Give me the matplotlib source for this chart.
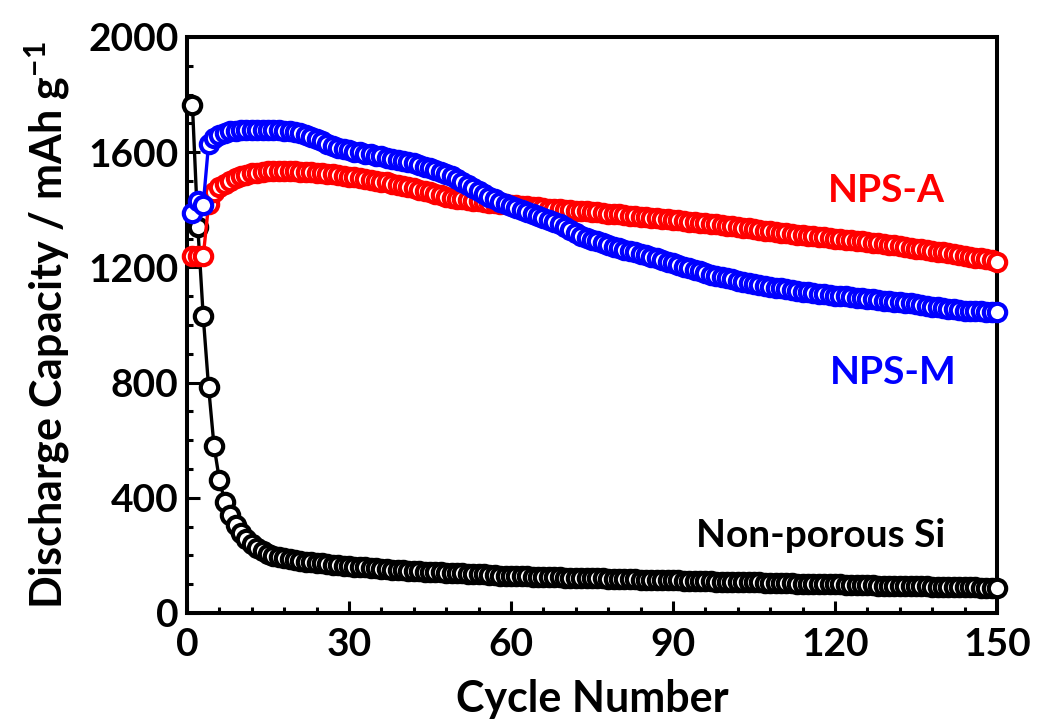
import matplotlib
matplotlib.use("Agg")
import matplotlib.pyplot as plt
import numpy as np

cycles = list(range(1, 151))

non_porous = [
    1764, 1340, 1030, 783, 580, 462, 386, 340, 305, 278,
    258, 240, 226, 215, 206, 199, 194, 190, 186, 183,
    180, 178, 176, 174, 172, 170, 168, 166, 164, 162,
    161, 159, 158, 156, 155, 154, 152, 150, 149, 148,
    147, 146, 145, 144, 143, 142, 141, 140, 139, 139,
    138, 137, 136, 135, 134, 133, 131, 130, 129, 128,
    128, 127, 127, 126, 126, 125, 125, 124, 124, 123,
    123, 122, 122, 121, 121, 120, 120, 119, 119, 118,
    118, 117, 117, 116, 116, 115, 115, 114, 114, 113,
    113, 112, 112, 111, 111, 110, 110, 109, 109, 109,
    108, 108, 107, 107, 106, 106, 105, 105, 104, 104,
    103, 103, 102, 102, 102, 101, 101, 100, 100, 99,
    99, 98, 98, 97, 97, 96, 96, 95, 95, 95,
    94, 94, 93, 93, 92, 92, 92, 91, 91, 91,
    90, 90, 90, 89, 89, 89, 88, 88, 88, 88,
]

nps_a = [
    1240, 1240, 1238, 1420, 1460, 1478, 1490, 1500, 1510, 1517,
    1522, 1526, 1529, 1531, 1533, 1533, 1534, 1534, 1533, 1533,
    1532, 1531, 1530, 1528, 1527, 1525, 1523, 1521, 1518, 1515,
    1513, 1510, 1507, 1504, 1501, 1498, 1495, 1491, 1487, 1483,
    1479, 1474, 1470, 1465, 1460, 1455, 1450, 1446, 1442, 1439,
    1436, 1433, 1431, 1429, 1427, 1425, 1423, 1421, 1419, 1418,
    1416, 1414, 1412, 1410, 1408, 1406, 1404, 1402, 1401, 1400,
    1399, 1397, 1396, 1395, 1393, 1391, 1389, 1387, 1385, 1384,
    1382, 1380, 1378, 1376, 1375, 1373, 1371, 1369, 1367, 1365,
    1363, 1361, 1359, 1357, 1355, 1353, 1351, 1349, 1347, 1345,
    1342, 1340, 1337, 1335, 1332, 1330, 1327, 1325, 1322, 1320,
    1318, 1316, 1314, 1312, 1310, 1308, 1306, 1304, 1302, 1300,
    1298, 1296, 1294, 1292, 1290, 1288, 1286, 1284, 1281, 1278,
    1276, 1273, 1270, 1268, 1265, 1263, 1260, 1258, 1255, 1252,
    1249, 1246, 1243, 1240, 1237, 1234, 1232, 1228, 1224, 1220,
]

nps_m = [
    1390, 1430, 1418, 1630, 1650, 1660, 1667, 1672, 1675, 1677,
    1678, 1678, 1678, 1678, 1678, 1677, 1676, 1674, 1672, 1669,
    1665, 1660, 1654, 1646, 1638, 1630, 1622, 1616, 1610, 1606,
    1602, 1599, 1595, 1592, 1588, 1585, 1581, 1577, 1573, 1569,
    1565, 1561, 1556, 1550, 1544, 1538, 1532, 1525, 1516, 1506,
    1496, 1486, 1476, 1466, 1456, 1446, 1436, 1428, 1421, 1414,
    1407, 1400, 1393, 1386, 1379, 1372, 1365, 1357, 1349, 1340,
    1330, 1320, 1310, 1303, 1296, 1290, 1284, 1278, 1272, 1267,
    1262, 1257, 1252, 1248, 1243, 1237, 1231, 1225, 1219, 1214,
    1208, 1202, 1197, 1191, 1186, 1180, 1175, 1171, 1166, 1162,
    1158, 1154, 1150, 1145, 1142, 1139, 1136, 1133, 1130, 1127,
    1124, 1121, 1118, 1116, 1113, 1110, 1108, 1106, 1104, 1102,
    1100, 1099, 1097, 1095, 1093, 1091, 1089, 1087, 1085, 1083,
    1081, 1079, 1077, 1075, 1072, 1069, 1067, 1064, 1061, 1058,
    1056, 1054, 1052, 1050, 1049, 1048, 1047, 1046, 1046, 1046,
]

x_ticks = [0, 30, 60, 90, 120, 150]
y_ticks = [0, 400, 800, 1200, 1600, 2000]

plt.rcParams['font.family'] = ['Lato', 'DejaVu Sans']
plt.rcParams['font.weight'] = 'bold'
plt.rcParams['mathtext.fontset'] = 'custom'
plt.rcParams['mathtext.rm'] = 'Lato:bold'
plt.rcParams['mathtext.bf'] = 'Lato:bold'
plt.rcParams['mathtext.default'] = 'bf'

fig = plt.figure(figsize=(10.39, 7.25), dpi=100)
ax = fig.add_axes([0.18, 0.1545, 0.7796, 0.7945])

ms, mew, lw = 12.5, 3.0, 2.4
ax.plot(cycles, non_porous, '-o', color='black', mfc='white', mec='black',
        ms=ms, mew=mew, lw=lw, zorder=3, clip_on=False)
ax.plot(cycles, nps_a, '-o', color='#ff0000', mfc='white', mec='#ff0000',
        ms=ms, mew=mew, lw=lw, zorder=4, clip_on=False)
ax.plot(cycles, nps_m, '-o', color='#0000ff', mfc='white', mec='#0000ff',
        ms=ms, mew=mew, lw=lw, zorder=5, clip_on=False)

ax.set_xlim(0, 150)
ax.set_ylim(0, 2000)
ax.set_xticks(x_ticks)
ax.set_yticks(y_ticks)
ax.set_xticks(np.arange(0, 151, 6), minor=True)
ax.set_yticks(np.arange(0, 2001, 100), minor=True)
ax.tick_params(which='both', direction='in', top=False, right=False,
               width=2.2, labelsize=28)
ax.tick_params(axis='x', which='major', pad=10)
ax.tick_params(axis='y', which='major', pad=6)
ax.tick_params(which='major', length=9)
ax.tick_params(which='minor', length=4.5)
for lbl in ax.get_xticklabels() + ax.get_yticklabels():
    lbl.set_fontweight('bold')
for s in ax.spines.values():
    s.set_linewidth(2.9)
    s.set_zorder(2)

ax.set_xlabel('Cycle Number', fontsize=31, fontweight='bold', labelpad=12)
ax.set_ylabel(r'Discharge Capacity / mAh g$^{-1}$', fontsize=31,
              fontweight='bold', labelpad=12)

ax.text(140.4, 1427, 'NPS-A', color='#ff0000', fontsize=28,
        fontweight='bold', ha='right', va='baseline', zorder=6)
ax.text(142.5, 795, 'NPS-M', color='#0000ff', fontsize=28,
        fontweight='bold', ha='right', va='baseline', zorder=6)
ax.text(140.4, 229, 'Non-porous Si', color='black', fontsize=28,
        fontweight='bold', ha='right', va='baseline', zorder=6)

fig.savefig('out.png', dpi=100)
